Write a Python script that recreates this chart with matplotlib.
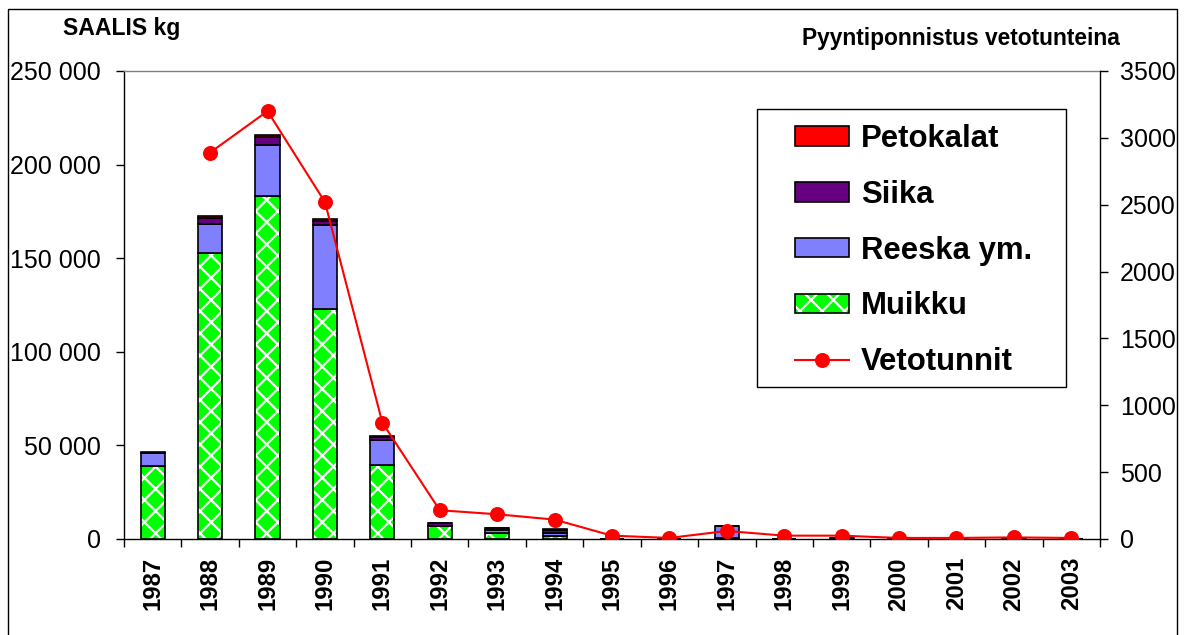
import matplotlib
matplotlib.use('Agg')
import matplotlib.pyplot as plt
from matplotlib.patches import Patch, Rectangle
from matplotlib.lines import Line2D
from matplotlib.ticker import FuncFormatter, MultipleLocator
import numpy as np

years = [str(y) for y in range(1987, 2004)]
muikku = [39000, 153000, 183000, 123000, 39600, 7100, 3000, 1800, 0, 0, 300, 0, 0, 0, 0, 0, 0]
reeska = [7000, 15500, 27500, 44600, 13400, 0, 1800, 1600, 0, 0, 6700, 0, 0, 0, 0, 0, 0]
siika = [0, 3000, 4000, 2300, 1300, 1200, 1000, 1600, 0, 0, 0, 0, 500, 0, 0, 500, 0]
petokalat = [300, 800, 1300, 1000, 500, 300, 300, 500, 0, 0, 0, 0, 0, 0, 0, 0, 0]
vetotunnit = [np.nan, 2890, 3200, 2520, 870, 215, 185, 145, 25, 8, 60, 25, 25, 8, 8, 12, 8]

plt.rcParams['font.family'] = ['Liberation Sans', 'DejaVu Sans']
plt.rcParams['hatch.linewidth'] = 0.8

W, H = 1184, 635
fig = plt.figure(figsize=(W / 200, H / 200), dpi=200)
ax = fig.add_axes([124 / W, 1 - 539 / H, (1100 - 124) / W, (539 - 71) / H])

x = np.arange(len(years))
bw = 0.42
edge = dict(edgecolor='black', linewidth=0.6)

# muikku: green with white diagonal hatch, then black outline
ax.bar(x, muikku, bw, color='#00FF00', edgecolor='white', linewidth=0, hatch='xxx', zorder=2)
ax.bar(x, muikku, bw, fill=False, zorder=3, **edge)
bottom = np.array(muikku, dtype=float)
ax.bar(x, reeska, bw, bottom=bottom, color='#8080FF', zorder=3, **edge)
bottom += reeska
ax.bar(x, siika, bw, bottom=bottom, color='#660080', zorder=3, **edge)
bottom += siika
ax.bar(x, petokalat, bw, bottom=bottom, color='#FF0000', zorder=3, **edge)

ax.set_xlim(-0.5, len(years) - 0.5)
ax.set_ylim(0, 250000)
ax.yaxis.set_major_locator(MultipleLocator(50000))
ax.yaxis.set_major_formatter(FuncFormatter(lambda v, p: f'{int(v):,}'.replace(',', ' ')))
ax.tick_params(axis='y', length=2.9, width=0.5, pad=5.5, labelsize=9)
ax.set_xticks(x, years, rotation=90, fontweight='bold', fontsize=8.6)
ax.tick_params(axis='x', which='major', length=0, pad=6.5)
ax.set_xticks(np.arange(-0.5, len(years), 1), minor=True)
ax.tick_params(axis='x', which='minor', length=2.9, width=0.5)
ax.spines['top'].set_color('#808080')
ax.spines['top'].set_linewidth(0.5)
ax.spines['right'].set_visible(False)
ax.spines['left'].set_linewidth(0.5)
ax.spines['bottom'].set_linewidth(0.5)

ax2 = ax.twinx()
ax2.plot(x, vetotunnit, color='#FF0000', lw=0.75, marker='o', ms=4.4, zorder=4)
ax2.set_ylim(0, 3500)
ax2.yaxis.set_major_locator(MultipleLocator(500))
ax2.tick_params(axis='y', length=2.9, width=0.5, pad=4.3, labelsize=9)
for s in ['left', 'top', 'bottom']:
    ax2.spines[s].set_visible(False)
ax2.spines['right'].set_linewidth(0.5)

fig.text(63 / W, 1 - 28 / H, 'SAALIS kg', fontsize=8.3, fontweight='bold', va='center', ha='left')
fig.text(1120 / W, 1 - 39 / H, 'Pyyntiponnistus vetotunteina', fontsize=8.2,
         fontweight='bold', va='center', ha='right')

handles = [
    Patch(facecolor='#FF0000', **edge),
    Patch(facecolor='#660080', **edge),
    Patch(facecolor='#8080FF', **edge),
    (Patch(facecolor='#00FF00', edgecolor='white', linewidth=0, hatch='xxx'),
     Patch(fill=False, **edge)),
    Line2D([], [], color='#FF0000', lw=0.75, marker='o', ms=4.4),
]
labels = ['Petokalat', 'Siika', 'Reeska ym.', 'Muikku', 'Vetotunnit']
fig.legend(handles, labels, loc='upper left', bbox_to_anchor=(795 / W, 1 - 124 / H),
           frameon=False, borderpad=0, borderaxespad=0, prop={'weight': 'bold', 'size': 11.2},
           handlelength=1.75, handleheight=0.58, handletextpad=0.36, labelspacing=0.83)
fig.patches.append(Rectangle((757 / W, 1 - 387 / H), (1066 - 757) / W, (387 - 109) / H,
                             transform=fig.transFigure, fill=False, edgecolor='black', lw=0.5))

# outer frame
fig.patches.append(Rectangle((8 / W, -0.05), (1177 - 8) / W, 0.05 + (H - 9) / H,
                             transform=fig.transFigure, fill=False, edgecolor='black', lw=0.5))

fig.savefig('out.png', dpi=200)
